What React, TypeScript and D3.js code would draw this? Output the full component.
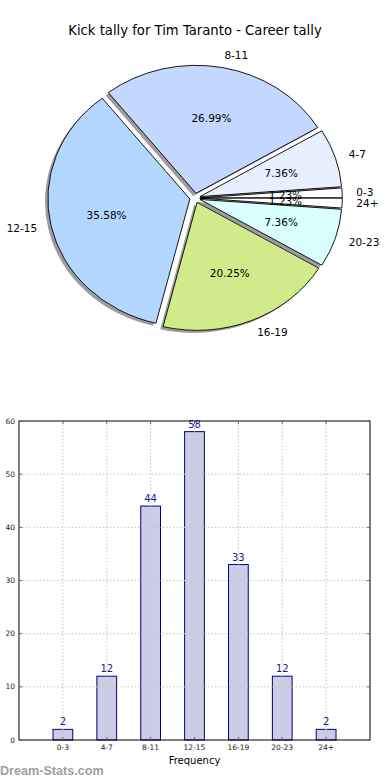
import React from "react";
import * as d3 from "d3";

const categories = ["0-3", "4-7", "8-11", "12-15", "16-19", "20-23", "24+"];
const counts = [2, 12, 44, 58, 33, 12, 2];
const sliceColors = ["#ffffff", "#e8f0ff", "#c4d8ff", "#b3d6ff", "#d0ea8c", "#d9ffff", "#ffffff"];
const yTicks = [0, 10, 20, 30, 40, 50, 60];

const W = 390, H = 780;
const title = "Kick tally for Tim Taranto - Career tally";

// pie geometry (matplotlib-ish, slightly elliptical)
const cx = 195, cy = 198, rx = 142, ry = 128;
const explode = 0.037;

// bar axes box
const bx0 = 19, bx1 = 370, by0 = 421, by1 = 740;

const PieChart = () => {
  const total = d3.sum(counts);
  const pie = d3.pie<number>().sort(null).startAngle(Math.PI / 2).endAngle(Math.PI / 2 - 2 * Math.PI);
  const arcs = pie(counts);
  const arc = d3.arc<d3.PieArcDatum<number>>().innerRadius(0).outerRadius(1);

  return (
    <g>
      <text x={W / 2} y={30} dy="0.35em" textAnchor="middle" fontSize={13.2} fontFamily="DejaVu Sans" fill="#000">{title}</text>
      <g transform={`translate(${cx},${cy}) scale(${rx},${ry})`}>
        {arcs.map((a, i) => {
          const m = (a.startAngle + a.endAngle) / 2;
          const ox = explode * Math.sin(m) - 0.02;
          const oy = -explode * Math.cos(m) + 0.02;
          return <path key={"s" + i} d={arc(a) || ""} transform={`translate(${ox},${oy})`} fill="#4d4d4d" fillOpacity={0.55} stroke="none" />;
        })}
        {arcs.map((a, i) => {
          const m = (a.startAngle + a.endAngle) / 2;
          const ox = explode * Math.sin(m);
          const oy = -explode * Math.cos(m);
          return <path key={"w" + i} d={arc(a) || ""} transform={`translate(${ox},${oy})`} fill={sliceColors[i]} stroke="#000" strokeWidth={0.9} vectorEffect="non-scaling-stroke" />;
        })}
      </g>
      {arcs.map((a, i) => {
        const m = (a.startAngle + a.endAngle) / 2;
        const s = Math.sin(m), c = Math.cos(m);
        const lx = cx + rx * (explode + 1.1) * s;
        const ly = cy - ry * (explode + 1.1) * c;
        const px = cx + rx * (explode + 0.6) * s;
        const py = cy - ry * (explode + 0.6) * c;
        return (
          <g key={"t" + i} fontFamily="DejaVu Sans" fontSize={10.5} fill="#000">
            <text x={lx} y={ly} dy="0.35em" textAnchor={s > 0 ? "start" : "end"}>{categories[i]}</text>
            <text x={px} y={py} dy="0.35em" textAnchor="middle">{((counts[i] / total) * 100).toFixed(2) + "%"}</text>
          </g>
        );
      })}
    </g>
  );
};

const BarChart = () => {
  const x = d3.scaleLinear().domain([0, categories.length + 1]).range([bx0, bx1]);
  const y = d3.scaleLinear().domain([0, 60]).range([by1, by0]);
  const bw = x(0.45) - x(0);
  const xt = categories.map((_, i) => i + 1);

  return (
    <g>
      {counts.map((v, i) => (
        <rect key={"b" + i} x={x(i + 1) - bw / 2} y={y(v)} width={bw} height={y(0) - y(v)} fill="#ccccE6" stroke="#000080" strokeWidth={1} />
      ))}
      {/* grid on top */}
      {xt.map((t) => (
        <line key={"gx" + t} x1={x(t)} x2={x(t)} y1={by0} y2={by1} stroke="#c4c4c4" strokeWidth={1} strokeDasharray="1.5,2" />
      ))}
      {yTicks.slice(1, -1).map((t) => (
        <line key={"gy" + t} x1={bx0} x2={bx1} y1={y(t)} y2={y(t)} stroke="#c4c4c4" strokeWidth={1} strokeDasharray="1.5,2" />
      ))}
      <rect x={bx0} y={by0} width={bx1 - bx0} height={by1 - by0} fill="none" stroke="#000" strokeWidth={1} />
      {xt.map((t) => (
        <g key={"tx" + t} stroke="#666" strokeWidth={1}>
          <line x1={x(t)} x2={x(t)} y1={by1} y2={by1 - 3} />
          <line x1={x(t)} x2={x(t)} y1={by0} y2={by0 + 3} />
        </g>
      ))}
      {yTicks.map((t) => (
        <g key={"ty" + t} stroke="#666" strokeWidth={1}>
          <line x1={bx0} x2={bx0 + 3} y1={y(t)} y2={y(t)} />
          <line x1={bx1} x2={bx1 - 3} y1={y(t)} y2={y(t)} />
        </g>
      ))}
      {yTicks.map((t) => (
        <text key={"yl" + t} x={bx0 - 4} y={y(t)} dy="0.35em" textAnchor="end" fontSize={7.5} fontFamily="DejaVu Sans" fill="#222">{t}</text>
      ))}
      {categories.map((c, i) => (
        <text key={"xl" + i} x={x(i + 1)} y={by1 + 10} textAnchor="middle" fontSize={7.5} fontFamily="DejaVu Sans" fill="#222">{c}</text>
      ))}
      {counts.map((v, i) => (
        <text key={"v" + i} x={x(i + 1)} y={y(v) - 4} textAnchor="middle" fontSize={10} fontFamily="DejaVu Sans" fill="#1a1a8c">{v}</text>
      ))}
      <text x={(bx0 + bx1) / 2} y={by1 + 24} textAnchor="middle" fontSize={10} fontFamily="DejaVu Sans" fill="#000">Frequency</text>
      <text x={0} y={775} fontSize={12.6} fontWeight="bold" fontFamily="Liberation Sans" fill="#a0a0a0">Dream-Stats.com</text>
    </g>
  );
};

export default function App() {
  return (
    <svg width={W} height={H} style={{ position: "absolute", left: 0, top: 0, background: "#fff" }}>
      <PieChart />
      <BarChart />
    </svg>
  );
}
